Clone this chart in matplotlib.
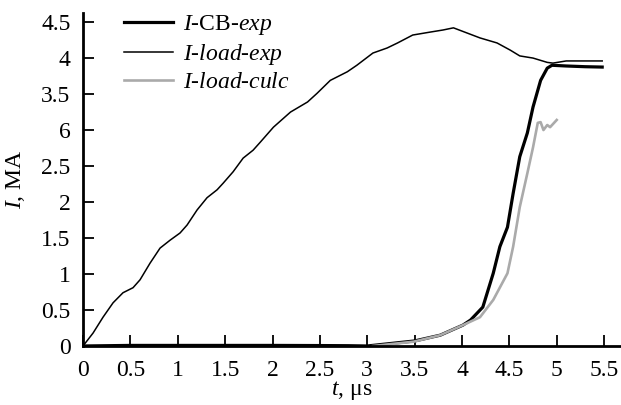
import matplotlib
matplotlib.use('Agg')
import matplotlib.pyplot as plt

# I-CB-exp (thick black)
t_cb = [0.0, 0.5, 1.0, 1.5, 2.0, 2.5, 2.8, 3.0, 3.5, 3.77, 4.01, 4.09, 4.22, 4.33, 4.40,
        4.48, 4.54, 4.61, 4.69, 4.75, 4.83, 4.90, 4.95, 5.1, 5.3, 5.48]
i_cb = [0.0, 0.008, 0.008, 0.008, 0.008, 0.006, 0.004, 0.0, 0.07, 0.15, 0.29, 0.36, 0.54,
        1.01, 1.38, 1.65, 2.12, 2.63, 2.96, 3.32, 3.69, 3.86, 3.9, 3.89, 3.88, 3.875]

# I-load-exp (thin black)
t_load = [0.0, 0.106, 0.211, 0.317, 0.422, 0.528, 0.602, 0.707, 0.813, 0.919, 1.024,
          1.098, 1.204, 1.309, 1.415, 1.478, 1.584, 1.69, 1.795, 1.87, 2.01, 2.19,
          2.37, 2.47, 2.61, 2.79, 2.89, 3.06, 3.21, 3.32, 3.48, 3.66, 3.80, 3.91,
          4.05, 4.19, 4.37, 4.51, 4.61, 4.75, 4.90, 4.96, 5.1, 5.48]
i_load = [0.0, 0.18, 0.40, 0.60, 0.74, 0.81, 0.92, 1.15, 1.36, 1.47, 1.57,
          1.68, 1.89, 2.06, 2.17, 2.26, 2.42, 2.61, 2.72, 2.83, 3.04, 3.25,
          3.39, 3.51, 3.69, 3.81, 3.90, 4.07, 4.14, 4.21, 4.32, 4.36, 4.39, 4.42,
          4.35, 4.28, 4.21, 4.11, 4.03, 4.0, 3.94, 3.93, 3.96, 3.96]

# I-load-culc (gray)
t_calc = [3.06, 3.49, 3.77, 4.01, 4.19, 4.33, 4.48, 4.54, 4.61, 4.69, 4.75, 4.80,
          4.83, 4.86, 4.90, 4.93, 5.0]
i_calc = [0.0, 0.06, 0.15, 0.29, 0.40, 0.64, 1.01, 1.38, 1.93, 2.40, 2.76, 3.10,
          3.11, 3.0, 3.07, 3.04, 3.14]

x_ticks = [0, 0.5, 1, 1.5, 2, 2.5, 3, 3.5, 4, 4.5, 5, 5.5]
x_labels = ['0', '0.5', '1', '1.5', '2', '2.5', '3', '3.5', '4', '4.5', '5', '5.5']
y_ticks = [0, 0.5, 1, 1.5, 2, 2.5, 3, 3.5, 4, 4.5]
y_labels = ['0', '0.5', '1', '1.5', '2', '2.5', '6', '3.5', '4', '4.5']

plt.rcParams['font.family'] = 'Liberation Serif'
plt.rcParams['mathtext.fontset'] = 'custom'
plt.rcParams['mathtext.it'] = 'Liberation Serif:italic'
plt.rcParams['mathtext.rm'] = 'Liberation Serif'

fs = 17

fig = plt.figure(figsize=(6.21, 4.05), dpi=100)
ax = fig.add_axes([0.1337, 0.1457, 0.865, 0.822])

ax.plot(t_cb, i_cb, color='black', lw=2.3, label='$I$-CB-$exp$')
ax.plot(t_load, i_load, color='black', lw=1.1, label='$I$-$load$-$exp$')
ax.plot(t_calc, i_calc, color='#aaaaaa', lw=1.9, label='$I$-$load$-$culc$')

ax.set_xlim(0, 5.67)
ax.set_ylim(0, 4.625)
ax.set_xticks(x_ticks)
ax.set_xticklabels(x_labels)
ax.set_yticks(y_ticks)
ax.set_yticklabels(y_labels)
ax.tick_params(direction='in', length=8, width=1.3, labelsize=fs)
ax.tick_params(axis='x', pad=10)
ax.tick_params(axis='y', pad=9)

for s in ['top', 'right']:
    ax.spines[s].set_visible(False)
for s in ['left', 'bottom']:
    ax.spines[s].set_linewidth(2)

ax.set_xlabel('$t$, μs', fontsize=fs, labelpad=-1)
ax.set_ylabel('$I$, MA', fontsize=fs, labelpad=10)

ax.legend(loc='upper left', bbox_to_anchor=(0.058, 1.028), frameon=False, fontsize=fs,
          handlelength=2.1, handletextpad=0.4, labelspacing=0.2, borderaxespad=0)

fig.savefig('out.png', dpi=100)
